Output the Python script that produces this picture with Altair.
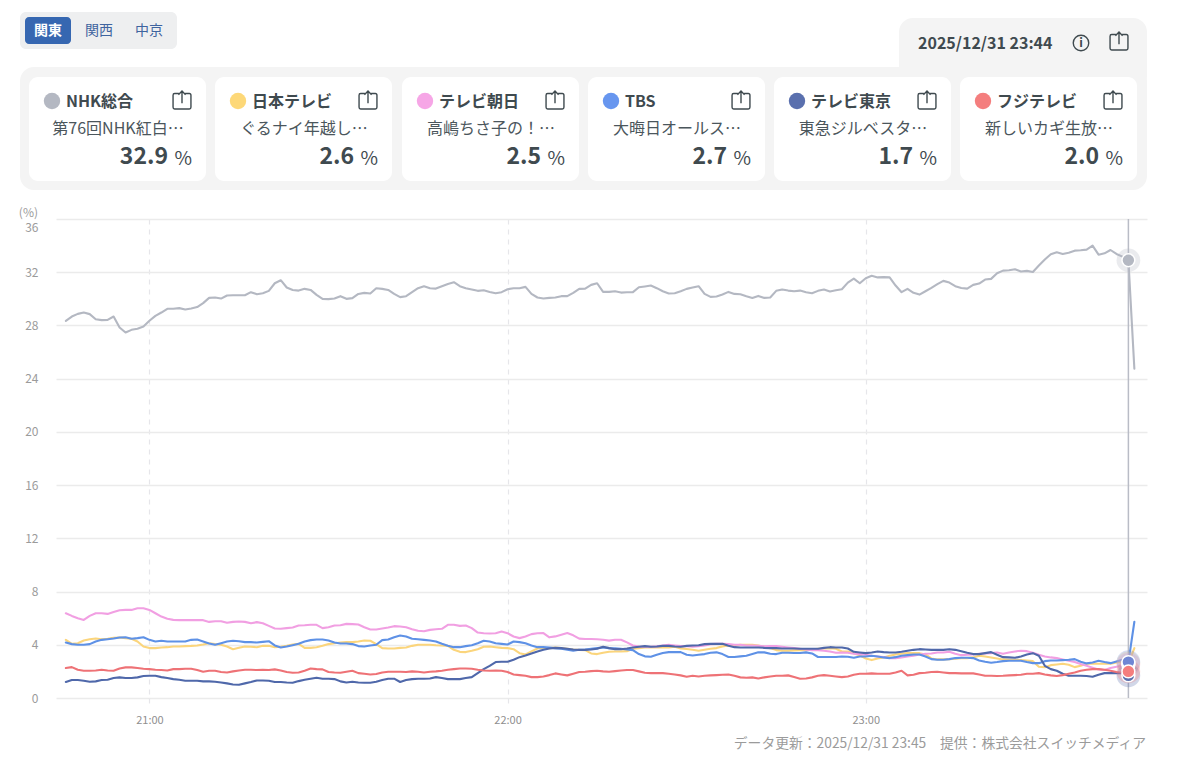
import altair as alt
import pandas as pd

FONT = "Noto Sans CJK JP"

stations = ["NHK総合", "日本テレビ", "テレビ朝日", "TBS", "テレビ東京", "フジテレビ"]
programs = ["第76回NHK紅白…", "ぐるナイ年越し…", "高嶋ちさ子の！…", "大晦日オールス…", "東急ジルベスタ…", "新しいカギ生放…"]
current = ["32.9", "2.6", "2.5", "2.7", "1.7", "2.0"]
swatch_colors = ["#b4b8c2", "#fdd878", "#f6a6e6", "#6796ef", "#5a70ae", "#f47e7e"]
marker_colors = ["#b4b8c2", "#fdd878", "#f6a6e6", "#6f86d4", "#5a70ae", "#f47e7e"]
line_colors = ["#b4b8c2", "#fbd57c", "#f19fe2", "#5e91e6", "#4f68aa", "#ee7276"]
tabs = ["関東", "関西", "中京"]

nhk = [
28.35,28.67,28.87,28.97,28.85,28.47,28.4,28.42,28.67,27.85,
27.47,27.67,27.75,27.92,28.35,28.72,28.97,29.25,29.25,29.3,
29.2,29.28,29.38,29.68,30.07,30.1,30.02,30.25,30.27,30.27,
30.27,30.5,30.35,30.42,30.6,31.17,31.4,30.85,30.67,30.62,
30.75,30.67,30.3,30.0,29.98,30.02,30.2,30.0,30.05,30.37,
30.45,30.4,30.8,30.75,30.67,30.37,30.13,30.2,30.5,30.8,
30.95,30.8,30.77,30.95,31.12,31.25,30.95,30.8,30.7,30.6,
30.65,30.52,30.42,30.5,30.72,30.8,30.8,30.9,30.37,30.1,
30.02,30.07,30.1,30.2,30.2,30.45,30.75,30.77,31.05,31.17,
30.52,30.52,30.57,30.47,30.5,30.5,30.87,30.93,31.0,30.8,
30.57,30.4,30.42,30.57,30.75,30.85,30.95,30.37,30.15,30.17,
30.32,30.52,30.37,30.35,30.2,30.07,30.22,30.07,30.1,30.6,
30.7,30.62,30.57,30.62,30.5,30.42,30.6,30.7,30.55,30.65,
30.72,31.22,31.52,31.17,31.55,31.73,31.61,31.63,31.61,31.0,
30.5,30.75,30.45,30.32,30.57,30.82,31.1,31.35,31.22,30.95,
30.82,30.77,31.05,31.15,31.45,31.5,31.92,32.12,32.15,32.22,
32.05,32.1,32.02,32.5,32.95,33.35,33.5,33.37,33.47,33.62,
33.65,33.7,34.0,33.32,33.42,33.67,33.37,33.17,32.9,24.75]

ntv = [
4.37,4.07,4.12,4.32,4.42,4.47,4.42,4.45,4.52,4.55,
4.5,4.45,4.25,3.87,3.75,3.75,3.8,3.82,3.87,3.87,
3.9,3.92,3.95,4.02,4.12,4.05,4.0,3.87,3.67,3.77,
3.87,3.85,3.82,3.92,3.92,3.82,3.85,3.92,4.02,4.07,
3.77,3.77,3.82,3.92,4.05,4.12,4.17,4.2,4.2,4.25,
4.32,4.3,4.05,3.75,3.72,3.72,3.77,3.8,3.92,4.0,
4.0,4.0,3.97,3.95,3.92,3.62,3.47,3.45,3.55,3.67,
3.85,3.87,3.82,3.77,3.75,3.67,3.37,3.27,3.5,3.72,
3.75,3.75,3.8,3.75,3.7,3.65,3.62,3.6,3.35,3.3,
3.4,3.48,3.5,3.5,3.52,3.7,3.75,3.8,3.8,3.82,
3.8,3.8,3.85,3.73,3.68,3.63,3.55,3.63,3.7,3.75,
3.88,3.95,3.95,4.0,4.0,4.0,3.95,3.85,3.75,3.6,
3.55,3.55,3.58,3.6,3.6,3.65,3.7,3.72,3.75,3.7,
3.5,3.5,3.37,3.2,2.97,2.85,2.97,3.05,3.17,3.27,
3.32,3.37,3.37,3.37,3.27,2.97,2.9,2.9,2.92,2.95,
3.0,3.0,3.05,3.17,3.12,3.05,2.97,2.9,2.87,2.87,
2.85,2.82,2.77,2.35,2.32,2.47,2.52,2.57,2.5,2.32,
2.42,2.57,2.57,2.57,2.57,2.57,2.67,2.75,2.6,3.75]

ex = [
6.37,6.17,6.0,5.87,6.17,6.37,6.37,6.32,6.47,6.6,
6.62,6.62,6.75,6.75,6.62,6.37,6.12,5.95,5.87,5.85,
5.85,5.85,5.85,5.85,5.72,5.77,5.77,5.65,5.72,5.75,
5.72,5.62,5.7,5.62,5.42,5.22,5.2,5.25,5.3,5.45,
5.47,5.5,5.5,5.25,5.32,5.45,5.47,5.57,5.55,5.52,
5.32,5.15,5.15,5.22,5.3,5.4,5.37,5.32,5.17,5.05,
5.02,5.12,5.17,5.2,5.5,5.5,5.42,5.45,5.25,4.92,
4.87,4.85,4.87,5.0,4.87,4.62,4.5,4.62,4.8,4.87,
4.88,4.56,4.63,4.76,4.88,4.71,4.46,4.43,4.43,4.41,
4.38,4.31,4.38,4.38,4.18,3.95,3.86,3.85,3.85,3.88,
3.95,4.0,3.95,3.9,3.9,3.85,3.9,3.95,4.05,4.07,
4.07,4.05,4.0,4.0,3.95,3.95,3.93,3.88,3.9,3.9,
3.85,3.8,3.75,3.7,3.65,3.6,3.6,3.55,3.5,3.4,
3.42,3.4,3.32,3.3,3.25,3.17,3.12,3.07,3.0,3.0,
3.05,3.12,3.17,3.27,3.32,3.35,3.42,3.42,3.47,3.32,
3.22,3.25,3.27,3.32,3.35,3.37,3.42,3.32,3.42,3.5,
3.55,3.52,3.4,3.25,3.12,3.05,3.0,2.9,2.8,2.7,
2.55,2.42,2.28,2.15,2.1,2.25,2.35,2.45,2.5,2.6]

tbs = [
4.17,4.05,4.0,4.0,4.05,4.25,4.37,4.42,4.47,4.55,
4.57,4.45,4.5,4.57,4.37,4.25,4.3,4.25,4.25,4.25,
4.25,4.37,4.4,4.25,4.1,4.0,4.12,4.25,4.3,4.27,
4.2,4.2,4.17,4.22,4.27,3.95,3.8,3.87,3.97,4.07,
4.25,4.35,4.4,4.4,4.32,4.17,4.1,4.1,4.05,3.9,
3.87,3.95,4.0,4.35,4.4,4.57,4.7,4.62,4.45,4.42,
4.37,4.32,4.25,4.07,3.92,3.82,3.82,3.9,3.97,4.12,
4.3,4.25,4.12,4.07,4.02,4.25,4.2,4.12,3.95,3.82,
3.82,3.8,3.75,3.7,3.62,3.55,3.62,3.65,3.7,3.75,
3.8,3.75,3.73,3.7,3.65,3.6,3.3,3.13,3.1,3.25,
3.38,3.45,3.45,3.45,3.25,3.2,3.25,3.3,3.4,3.43,
3.3,3.08,3.08,3.13,3.18,3.3,3.43,3.43,3.33,3.3,
3.4,3.4,3.38,3.38,3.43,3.35,3.08,3.08,3.08,3.08,
3.12,3.1,3.02,3.12,3.12,3.17,3.12,3.05,3.0,3.07,
3.17,3.22,3.27,3.27,3.12,2.92,2.87,2.87,2.92,3.0,
3.02,3.02,3.0,2.82,2.72,2.65,2.7,2.77,2.8,2.8,
2.8,2.7,2.62,2.62,2.77,2.82,2.82,2.85,2.87,2.92,
2.72,2.6,2.67,2.8,2.7,2.62,2.75,2.87,2.7,5.73]

tx = [
1.2,1.35,1.35,1.3,1.22,1.25,1.35,1.37,1.5,1.55,
1.5,1.5,1.55,1.65,1.67,1.67,1.57,1.5,1.42,1.37,
1.3,1.3,1.3,1.25,1.25,1.22,1.17,1.1,1.02,1.0,
1.1,1.2,1.32,1.32,1.3,1.2,1.2,1.17,1.15,1.27,
1.37,1.45,1.52,1.45,1.45,1.42,1.25,1.17,1.22,1.17,
1.15,1.15,1.22,1.35,1.45,1.45,1.2,1.35,1.42,1.45,
1.45,1.47,1.57,1.5,1.42,1.42,1.42,1.5,1.57,1.87,
2.17,2.42,2.7,2.72,2.72,2.87,3.07,3.2,3.35,3.5,
3.62,3.72,3.77,3.75,3.7,3.65,3.62,3.62,3.65,3.7,
3.85,3.75,3.67,3.67,3.72,3.8,3.85,3.9,3.85,3.87,
3.92,3.92,3.87,3.85,3.92,3.95,3.97,4.05,4.07,4.07,
4.07,3.92,3.82,3.8,3.8,3.8,3.8,3.77,3.75,3.75,
3.72,3.72,3.72,3.7,3.7,3.7,3.7,3.77,3.82,3.8,
3.8,3.72,3.47,3.42,3.37,3.42,3.5,3.45,3.42,3.42,
3.47,3.55,3.62,3.67,3.65,3.62,3.62,3.62,3.67,3.62,
3.52,3.4,3.3,3.3,3.37,3.45,3.25,3.07,3.05,3.02,
3.12,3.27,3.37,3.17,2.42,2.17,2.05,1.82,1.67,1.67,
1.67,1.65,1.6,1.75,1.87,1.87,1.87,1.87,1.7,2.2]

cx = [
2.25,2.32,2.12,2.05,2.05,2.07,2.12,2.07,2.05,2.22,
2.3,2.3,2.25,2.2,2.17,2.12,2.1,2.07,2.17,2.17,
2.2,2.2,2.1,1.97,2.05,2.05,1.95,1.92,2.0,2.07,
2.12,2.12,2.1,2.12,2.1,2.15,2.07,1.95,1.9,1.92,
2.05,2.22,2.17,2.15,1.95,1.92,1.9,1.97,2.05,1.87,
1.82,1.77,1.8,1.92,1.97,1.97,1.97,1.95,2.0,1.97,
1.92,1.97,2.0,2.05,2.12,2.17,2.22,2.22,2.2,2.12,
2.07,2.05,2.07,2.05,1.95,1.77,1.72,1.67,1.57,1.57,
1.62,1.72,1.85,1.77,1.7,1.82,1.95,1.97,2.02,2.05,
2.0,1.97,2.02,2.07,2.1,2.1,2.0,1.9,1.87,1.87,
1.87,1.82,1.77,1.7,1.6,1.67,1.62,1.67,1.7,1.72,
1.75,1.77,1.67,1.55,1.52,1.55,1.47,1.55,1.62,1.67,
1.67,1.7,1.57,1.45,1.47,1.55,1.67,1.72,1.67,1.62,
1.57,1.62,1.75,1.82,1.82,1.85,1.82,1.82,1.82,1.92,
2.05,1.7,1.75,1.87,1.9,1.95,1.97,1.92,1.87,1.87,
1.85,1.85,1.85,1.77,1.67,1.67,1.65,1.67,1.7,1.72,
1.75,1.82,1.82,1.87,1.77,1.7,1.65,1.72,1.82,1.92,
2.05,2.12,2.17,2.17,2.12,2.05,1.95,1.92,2.0,2.1]

series = [nhk, ntv, ex, tbs, tx, cx]
for s in series:
    assert len(s) == 180, len(s)

times = pd.date_range("2025-12-31 20:46", periods=180, freq="min")
y_ticks = [0, 4, 8, 12, 16, 20, 24, 28, 32, 36]
x_ticks = ["2025-12-31T21:00:00", "2025-12-31T22:00:00", "2025-12-31T23:00:00"]
cursor_time = pd.Timestamp("2025-12-31 23:44")
x_domain = ["2025-12-31T20:44:21", "2025-12-31T23:47:07"]

ORIGIN_X, ORIGIN_Y = 56, 219
one = pd.DataFrame({"a": [0]})


def px(v):
    return v - ORIGIN_X


def py(v):
    return v - ORIGIN_Y


def box(x0, y0, x1, y1, color, r=0):
    return alt.Chart(one).mark_rect(color=color, cornerRadius=r).encode(
        x=alt.value(px(x0)), x2=alt.value(px(x1)), y=alt.value(py(y0)), y2=alt.value(py(y1)))


def label(s, x, y, size, color, weight="normal", align="left"):
    return alt.Chart(one).mark_text(
        text=s, font=FONT, fontSize=size, color=color, fontWeight=weight, align=align, baseline="middle"
    ).encode(x=alt.value(px(x)), y=alt.value(py(y)))


SHARE = ("M-0.35,-0.72 L-0.82,-0.72 Q-1,-0.72 -1,-0.54 L-1,0.82 Q-1,1 -0.82,1 L0.82,1 Q1,1 1,0.82 "
         "L1,-0.54 Q1,-0.72 0.82,-0.72 L0.35,-0.72 M0,0.35 L0,-1 M-0.4,-0.6 L0,-1 L0.4,-0.6")


def share(x, y):
    return alt.Chart(one).mark_point(shape=SHARE, size=320, filled=False, stroke="#3f4a4f",
                                     strokeWidth=1.4, opacity=1).encode(
        x=alt.value(px(x)), y=alt.value(py(y)))


def dot(x, y, size, color):
    return alt.Chart(one).mark_circle(size=size, color=color, opacity=1).encode(
        x=alt.value(px(x)), y=alt.value(py(y)))


TEXT_DARK = "#3f4a4f"
TEXT_MID = "#4b565c"
TAB_BLUE = "#3f649f"
PANEL = "#f4f4f4"

ui = [
    box(20, 12, 177, 49, "#eeeff0", 6),
    box(25, 17, 71, 44, "#3667b1", 4),
    label(tabs[0], 48, 31, 14, "#ffffff", "bold", "center"),
    label(tabs[1], 99, 31, 14, TAB_BLUE, "normal", "center"),
    label(tabs[2], 149, 31, 14, TAB_BLUE, "normal", "center"),
    box(20, 67, 1147, 190, PANEL, 14),
    box(899, 18, 1147, 90, PANEL, 14),
    label("2025/12/31 23:44", 918, 44, 16, TEXT_DARK, "bold"),
    alt.Chart(one).mark_point(shape="circle", size=240, filled=False, stroke=TEXT_DARK,
                              strokeWidth=1.4, opacity=1).encode(x=alt.value(px(1081)), y=alt.value(py(43))),
    label("i", 1081, 43, 12, TEXT_DARK, "bold", "center"),
    share(1119, 41),
]

card_left = [29, 215, 402, 588, 774, 960]
for i, left in enumerate(card_left):
    right = left + 177
    ui += [
        box(left, 77, right, 181, "#ffffff", 9),
        dot(left + 23, 101, 270, swatch_colors[i]),
        label(stations[i], left + 37, 102, 16, TEXT_DARK, "bold"),
        share(left + 153, 100),
        label(programs[i], left + 89, 129, 16, TEXT_MID, "normal", "center"),
        label(current[i], right - 38, 157, 23, TEXT_DARK, "bold", "right"),
        label("%", right - 14, 159, 19, TEXT_DARK, "normal", "right"),
    ]

ui += [
    label("(%)", 38, 213, 12, "#9b9b9b", "normal", "right"),
    label("データ更新：2025/12/31 23:45　提供：株式会社スイッチメディア", 1146, 744, 13.8, "#9b9b9b", "normal", "right"),
]

x_enc = alt.X(
    "t:T",
    scale=alt.Scale(domain=x_domain),
    axis=alt.Axis(values=x_ticks, format="%H:%M", title=None, grid=True, gridColor="#e6e6ea", gridDash=[5, 5],
                  gridWidth=1.2, domain=False, tickColor="#e6e6ea", tickDash=[5, 5], tickSize=10, tickWidth=1.2,
                  labelFont=FONT, labelFontSize=11, labelColor="#8f8f8f", labelPadding=6),
)
y_enc = alt.Y(
    "v:Q",
    scale=alt.Scale(domain=[0, 36], nice=False),
    axis=alt.Axis(values=y_ticks, title=None, grid=True, gridColor="#ebebeb", gridWidth=1.3, domain=False, ticks=False,
                  labelFont=FONT, labelFontSize=12, labelColor="#9b9b9b", labelPadding=18,
                  labelOffset=alt.expr("datum.value == 36 ? 8 : 0")),
)

lines = []
for i, values in enumerate(series):
    frame = pd.DataFrame({"t": times, "v": values})
    lines.append(alt.Chart(frame).mark_line(color=line_colors[i], strokeWidth=2.1, strokeCap="round",
                                            strokeJoin="round", clip=False).encode(x=x_enc, y=y_enc))

cursor = alt.Chart(pd.DataFrame({"t": [cursor_time]})).mark_rule(color="#b9bcc6", strokeWidth=1.5).encode(
    x=alt.X("t:T"), y=alt.value(0), y2=alt.value(479))

markers = []
for i, values in enumerate(series):
    frame = pd.DataFrame({"t": [cursor_time], "v": [float(current[i])]})
    markers.append(alt.Chart(frame).mark_circle(color=marker_colors[i], size=560, opacity=0.28).encode(
        x=alt.X("t:T"), y=alt.Y("v:Q")))
for i, values in enumerate(series):
    frame = pd.DataFrame({"t": [cursor_time], "v": [float(current[i])]})
    markers.append(alt.Chart(frame).mark_circle(color=marker_colors[i], size=165, opacity=1, stroke="#ffffff",
                                                strokeWidth=1.5).encode(x=alt.X("t:T"), y=alt.Y("v:Q")))

chart = alt.layer(*ui, *lines, cursor, *markers).properties(
    width=1091,
    height=479,
    padding={"left": 48, "top": 211, "right": 45, "bottom": 54},
    autosize=alt.AutoSizeParams(type="none"),
    background="#ffffff",
).configure_view(stroke=None)

chart.save("out.html", embed_options={"renderer": "svg", "actions": False})
